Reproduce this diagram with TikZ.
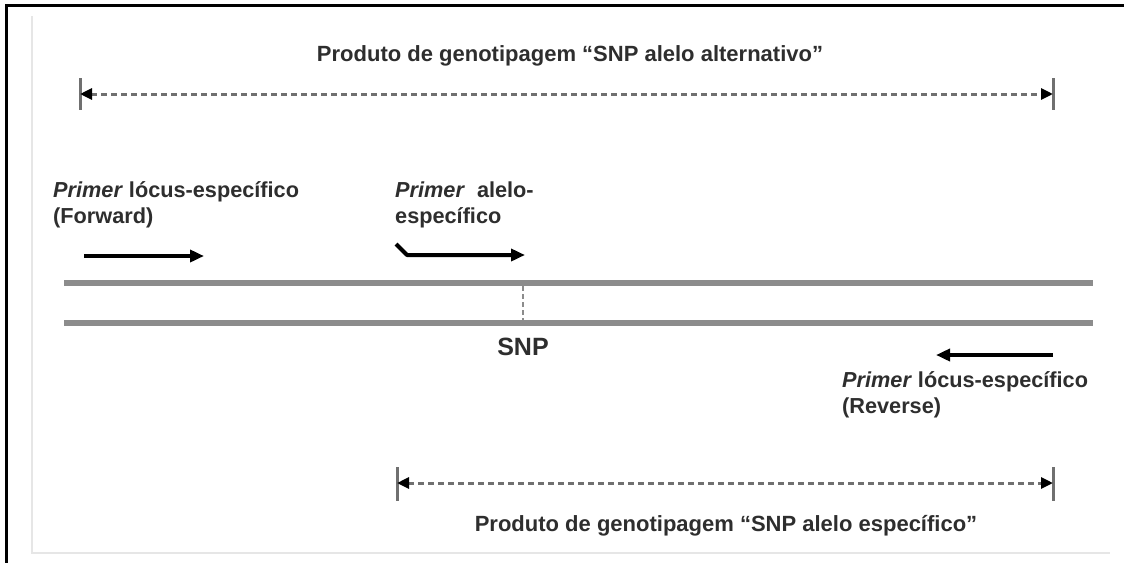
\documentclass[tikz,border=0pt]{standalone}
\usepackage{fontspec}
\setmainfont{Liberation Sans}
\usetikzlibrary{arrows.meta}
\definecolor{txtgray}{HTML}{2E2E2E}
\definecolor{strandgray}{HTML}{8C8C8C}
\definecolor{dimgray}{HTML}{707070}
\definecolor{faint}{HTML}{E6E6E6}
\tikzset{
  lbl/.style={font=\fontsize{21.7}{25.5}\selectfont\bfseries, text=txtgray, inner sep=0pt, align=left},
  ttl/.style={font=\fontsize{22}{26}\selectfont\bfseries, text=txtgray, inner sep=0pt},
  strand/.style={line width=6pt, draw=strandgray},
  primer/.style={line width=4pt, black, -{Triangle[length=14pt,width=12pt]}},
  dimline/.style={line width=3pt, draw=dimgray, dash pattern=on 6pt off 4pt,
    {Triangle[length=12pt,width=11pt,color=black]}-{Triangle[length=12pt,width=11pt,color=black]}},
  tick/.style={line width=3pt, draw=dimgray},
  frameline/.style={line width=3pt, black},
}
\begin{document}
\begin{tikzpicture}[x=1pt,y=-1pt]
\useasboundingbox (0,0) rectangle (1124,563);
\fill[white] (0,0) rectangle (1124,563);

% outer frame and faint inner border
\coordinate (fr1) at (1124,5);
\coordinate (fr2) at (6,5);
\coordinate (fr3) at (6,563);
\draw[frameline] (fr1) -- (fr2) -- (fr3);
\coordinate (in1) at (32,16);
\coordinate (in2) at (32,553);
\coordinate (in3) at (1110,553);
\draw[faint, line width=1.5pt] (in1) -- (in2) -- (in3);

% product spanning the alternative allele
\coordinate (topL) at (80,94);
\coordinate (topR) at (1053,94);
\draw[tick] (80,78) -- (80,110);
\draw[tick] (1053,78) -- (1053,110);
\draw[dimline] (topL) -- (topR);
\node[ttl, anchor=base] (toptitle) at (570,61)
  {Produto de genotipagem “SNP alelo alternativo”};

% primer labels (anchored on the baseline of their last line)
\node[lbl, anchor=base west] (fwdlbl) at (53,223)
  {\textit{Primer} lócus-específico\\(Forward)};
\node[lbl, anchor=base west] (alelbl) at (395,223)
  {\textit{Primer}\ \ alelo-\\específico};
\node[lbl, anchor=base west] (revlbl) at (842,413)
  {\textit{Primer} lócus-específico\\(Reverse)};

% primers
\coordinate (fwdS) at (84,256);
\coordinate (fwdE) at (204,256);
\draw[primer] (fwdS) -- (fwdE);
\coordinate (aleS) at (396,244);
\coordinate (aleB) at (407,255);
\coordinate (aleE) at (525,255);
\draw[primer, line join=round] (aleS) -- (aleB) -- (aleE);
\coordinate (revS) at (1053,355);
\coordinate (revE) at (936,355);
\draw[primer] (revS) -- (revE);

% DNA strands
\coordinate (s1L) at (64,283);
\coordinate (s1R) at (1093,283);
\coordinate (s2L) at (64,323);
\coordinate (s2R) at (1093,323);
\draw[strand] (s1L) -- (s1R);
\draw[strand] (s2L) -- (s2R);

% SNP position
\coordinate (snpT) at (523,286);
\coordinate (snpB) at (523,320);
\draw[strandgray, line width=2.5pt, dash pattern=on 5pt off 3pt] (snpT) -- (snpB);
\node[font=\fontsize{25}{30}\selectfont\bfseries, text=txtgray, inner sep=0pt, anchor=base] (snp) at (523,355) {SNP};

% product specific to the allele
\coordinate (botL) at (397,483);
\coordinate (botR) at (1053,483);
\draw[tick] (397,467) -- (397,501);
\draw[tick] (1053,467) -- (1053,501);
\draw[dimline] (botL) -- (botR);
\node[ttl, anchor=base] (bottitle) at (726,531)
  {Produto de genotipagem “SNP alelo específico”};
\end{tikzpicture}
\end{document}
